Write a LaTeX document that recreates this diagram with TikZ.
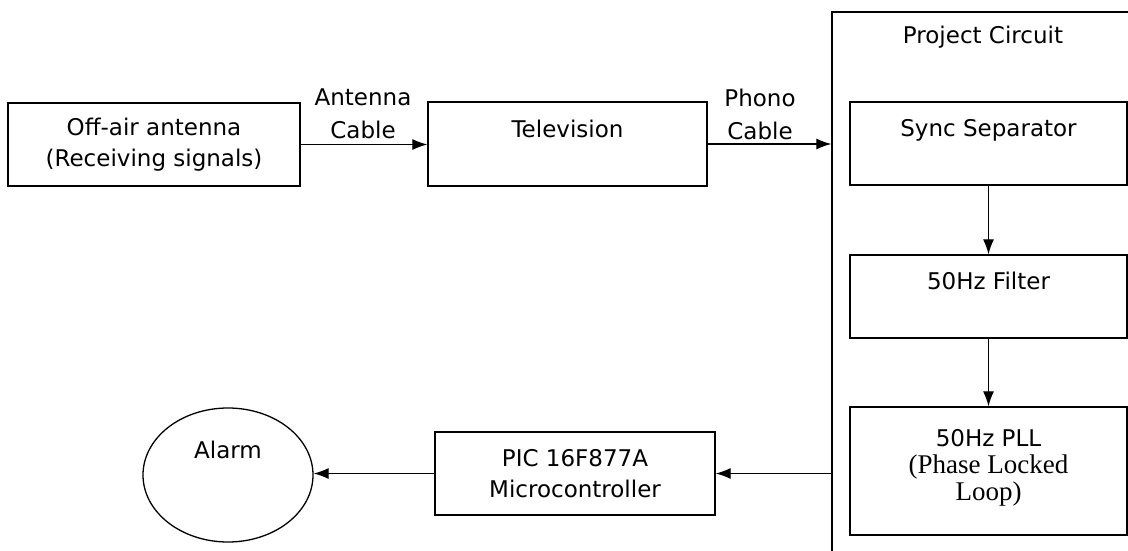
\documentclass[tikz,border=0pt]{standalone}
\usepackage{fontspec}
\setmainfont{DejaVu Sans}
\newfontfamily\pllserif{Liberation Serif}
\newcommand{\pllfont}{\pllserif\fontsize{27}{27}\selectfont}
\usetikzlibrary{positioning, arrows.meta, shapes.geometric}

\tikzset{
    blockbox/.style={draw, line width=1.3pt, inner sep=0pt, align=center,
                     font=\fontsize{23}{31}\selectfont},
    cablelabel/.style={align=center, inner sep=0pt,
                       font=\fontsize{23}{33}\selectfont},
    flowarrow/.style={-{Latex[length=15pt,width=11pt]}, line width=1.2pt},
}

\begin{document}
\begin{tikzpicture}[x=1pt, y=-1pt]
    \useasboundingbox (0,0) rectangle (1128,551);
    \clip (0,0) rectangle (1128,551);
    \node[blockbox, minimum width=292pt, minimum height=83pt]
        (antenna) at (154,144.5) {Off-air antenna\\(Receiving signals)};
    \node[blockbox, minimum width=279pt, minimum height=84pt]
        (tv) at (567.5,144) {Television\\\mbox{}};
    \node[draw, line width=1.3pt, inner sep=0pt,
          minimum width=310pt, minimum height=560pt]
        (proj) at (987,292) {};
    \node[cablelabel] (projlabel) at (983,37) {Project Circuit};
    \node[blockbox, minimum width=277pt, minimum height=83pt]
        (sync) at (988.5,143.5) {Sync Separator\\\mbox{}};
    \node[blockbox, minimum width=277pt, minimum height=83pt]
        (filter) at (988.5,296.5) {50Hz Filter\\\mbox{}};
    \node[blockbox, minimum width=277pt, minimum height=128pt,
          font=\fontsize{23}{27}\selectfont]
        (pll) at (988.5,471)
        {50Hz PLL\\\pllfont(Phase Locked\\\pllfont Loop)\\[-15pt]\mbox{}};
    \node[blockbox, minimum width=280pt, minimum height=83pt]
        (pic) at (575,473.5) {PIC 16F877A\\Microcontroller};
    \node[blockbox, ellipse, minimum width=170pt, minimum height=134pt]
        (alarm) at (228,475) {Alarm\\[20pt]\mbox{}};
    \node[cablelabel] (antcable) at (363,113.5) {Antenna\\Cable};
    \node[cablelabel] (phonocable) at (760,114) {Phono\\Cable};
    \draw[flowarrow] (antenna.east) -- (antenna.east -| tv.west);
    \draw[flowarrow] (tv.east) -- (tv.east -| proj.west);
    \draw[flowarrow] (sync) -- (filter);
    \draw[flowarrow] (filter) -- (pll);
    \draw[flowarrow] (pic.east -| proj.west) -- (pic.east);
    \draw[flowarrow] (pic.west) -- (alarm.east |- pic.west);
\end{tikzpicture}
\end{document}
